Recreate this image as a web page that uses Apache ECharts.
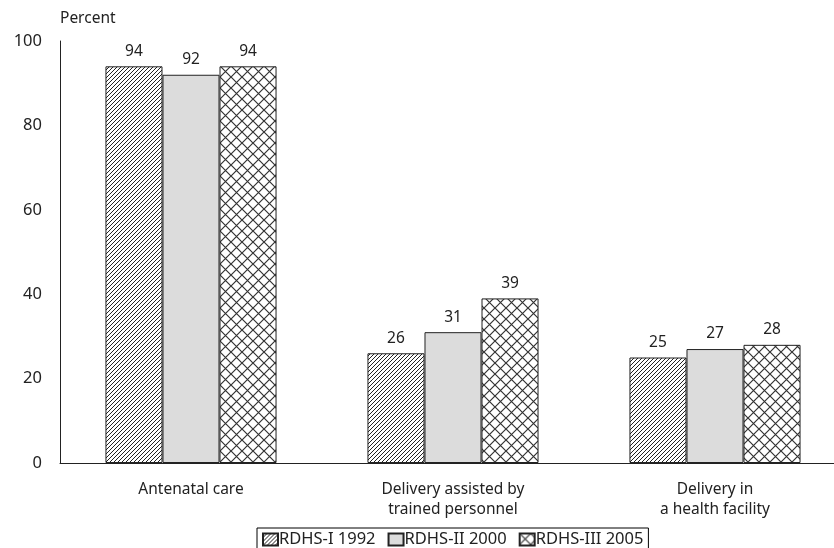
<!DOCTYPE html>
<html>
<head>
<meta charset="utf-8">
<script src="https://cdn.jsdelivr.net/npm/echarts@6/dist/echarts.min.js"></script>
<style>
  html, body { margin: 0; padding: 0; background: #fff; overflow: hidden; }
  /* the x axis runs past the right edge of the picture */
  #chart { width: 850px; height: 548px; }
</style>
</head>
<body>
<div id="chart"></div>
<script>
const categories = ['Antenatal care', 'Delivery assisted by\ntrained personnel', 'Delivery in\na health facility']
const seriesNames = ['RDHS-I 1992', 'RDHS-II 2000', 'RDHS-III 2005']
const rdhs1992 = [94, 26, 25]
const rdhs2000 = [92, 31, 27]
const rdhs2005 = [94, 39, 28]
const yTicks = [0, 20, 40, 60, 80, 100]

// hatch patterns drawn on small canvases
function hatchPattern() {
  const c = document.createElement('canvas')
  c.width = 4
  c.height = 4
  const ctx = c.getContext('2d')
  ctx.fillStyle = '#fff'
  ctx.fillRect(0, 0, 4, 4)
  ctx.strokeStyle = '#222'
  ctx.lineWidth = 1
  ctx.beginPath()
  ctx.moveTo(-1, 5); ctx.lineTo(5, -1)
  ctx.moveTo(-1, 1); ctx.lineTo(1, -1)
  ctx.moveTo(3, 5); ctx.lineTo(5, 3)
  ctx.stroke()
  return { image: c, repeat: 'repeat' }
}
function crossPattern() {
  const s = 11
  const c = document.createElement('canvas')
  c.width = s
  c.height = s
  const ctx = c.getContext('2d')
  ctx.fillStyle = '#fff'
  ctx.fillRect(0, 0, s, s)
  ctx.strokeStyle = '#333'
  ctx.lineWidth = 1.2
  ctx.beginPath()
  ctx.moveTo(0, 0); ctx.lineTo(s, s)
  ctx.moveTo(s, 0); ctx.lineTo(0, s)
  ctx.stroke()
  return { image: c, repeat: 'repeat' }
}

const fills = [hatchPattern(), '#dcdcdc', crossPattern()]
const data = [rdhs1992, rdhs2000, rdhs2005]
const font = 'Noto Sans'

const chart = echarts.init(document.getElementById('chart'))
chart.setOption({
  animation: false,
  textStyle: { fontFamily: font, color: '#222' },
  grid: { left: 60, top: 41, width: 786, height: 422 },
  legend: {
    data: seriesNames,
    left: 257,
    top: 528,
    orient: 'horizontal',
    icon: 'rect',
    borderColor: '#000',
    borderWidth: 1,
    padding: [3, 5, 6, 5],
    itemWidth: 15,
    itemHeight: 12,
    itemGap: 12,
    textStyle: { fontFamily: font, fontSize: 16.5, color: '#222', padding: [0, 0, 0, -4] }
  },
  xAxis: {
    type: 'category',
    data: categories,
    axisLine: { lineStyle: { color: '#222', width: 1 } },
    axisTick: { show: false },
    axisLabel: { fontFamily: font, fontSize: 15.5, color: '#222', margin: 17, lineHeight: 20 }
  },
  yAxis: {
    type: 'value',
    min: 0,
    max: 100,
    interval: 20,
    name: 'Percent',
    nameLocation: 'end',
    nameGap: 14,
    nameTextStyle: { fontFamily: font, fontSize: 15.5, color: '#222', align: 'left' },
    axisLine: { show: true, lineStyle: { color: '#222', width: 1 } },
    axisTick: { show: false },
    splitLine: { show: false },
    axisLabel: {
      fontFamily: font, fontSize: 16.5, color: '#222', margin: 18,
      formatter: v => (yTicks.includes(v) ? String(v) : '')
    }
  },
  series: seriesNames.map((name, i) => ({
    name: name,
    type: 'bar',
    data: data[i],
    barGap: '0%',
    barCategoryGap: '34.7%',
    itemStyle: { color: fills[i], borderColor: '#222', borderWidth: 1 },
    label: { show: true, position: 'top', distance: 7, fontFamily: font, fontSize: 15.5, color: '#222' }
  }))
})
</script>
</body>
</html>
